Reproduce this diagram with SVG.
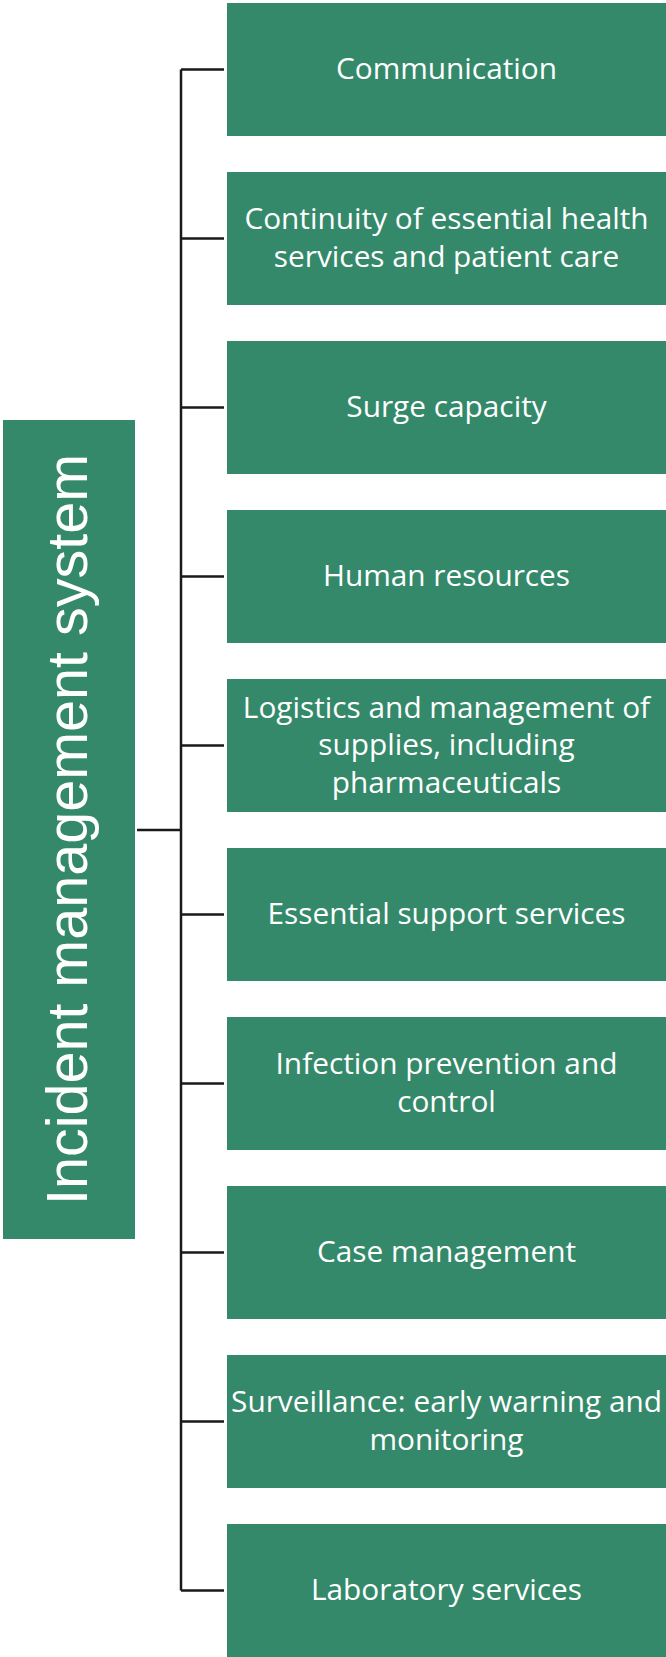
<svg xmlns="http://www.w3.org/2000/svg" width="666" height="1657" viewBox="0 0 666 1657">
<style>
.box{fill:#34896A;}
.lbl{font-family:"Open Sans","Liberation Sans",sans-serif;font-size:29.8px;fill:#FFFFFF;text-anchor:middle;}
.big{font-family:"Liberation Sans","Open Sans",sans-serif;font-size:57.5px;fill:#FFFFFF;text-anchor:middle;}
.ln{stroke:#1A1A1A;stroke-width:2.5;fill:none;}
</style>
<rect width="666" height="1657" fill="#FFFFFF"/>
<g id="connectors">
<path class="ln" d="M181,69.5 V1590.5"/>
<path class="ln" d="M137,830 H181" stroke-width="3.5"/>
<path class="ln" d="M181,69.5 H224 M181,238.5 H224 M181,407.5 H224 M181,576.5 H224 M181,745.5 H224 M181,914.5 H224 M181,1083.5 H224 M181,1252.5 H224 M181,1421.5 H224 M181,1590.5 H224"/>
</g>
<g id="root">
<rect class="box" x="3" y="420" width="132" height="819"/>
<text class="big" transform="translate(87,829.5) rotate(-90)">Incident management system</text>
</g>
<g id="n0"><rect class="box" x="227" y="3" width="439" height="133"/>
<text class="lbl" x="446.5" y="79">Communication</text></g>
<g id="n1"><rect class="box" x="227" y="172" width="439" height="133"/>
<text class="lbl" x="446.5" y="229.3">Continuity of essential health</text>
<text class="lbl" x="446.5" y="266.8">services and patient care</text></g>
<g id="n2"><rect class="box" x="227" y="341" width="439" height="133"/>
<text class="lbl" x="446.5" y="417">Surge capacity</text></g>
<g id="n3"><rect class="box" x="227" y="510" width="439" height="133"/>
<text class="lbl" x="446.5" y="586">Human resources</text></g>
<g id="n4"><rect class="box" x="227" y="679" width="439" height="133"/>
<text class="lbl" x="446.5" y="717.5">Logistics and management of</text>
<text class="lbl" x="446.5" y="755">supplies, including</text>
<text class="lbl" x="446.5" y="792.5">pharmaceuticals</text></g>
<g id="n5"><rect class="box" x="227" y="848" width="439" height="133"/>
<text class="lbl" x="446.5" y="924">Essential support services</text></g>
<g id="n6"><rect class="box" x="227" y="1017" width="439" height="133"/>
<text class="lbl" x="446.5" y="1074.3">Infection prevention and</text>
<text class="lbl" x="446.5" y="1111.8">control</text></g>
<g id="n7"><rect class="box" x="227" y="1186" width="439" height="133"/>
<text class="lbl" x="446.5" y="1262">Case management</text></g>
<g id="n8"><rect class="box" x="227" y="1355" width="439" height="133"/>
<text class="lbl" x="446.5" y="1412.3">Surveillance: early warning and</text>
<text class="lbl" x="446.5" y="1449.8">monitoring</text></g>
<g id="n9"><rect class="box" x="227" y="1524" width="439" height="133"/>
<text class="lbl" x="446.5" y="1600">Laboratory services</text></g>
</svg>
